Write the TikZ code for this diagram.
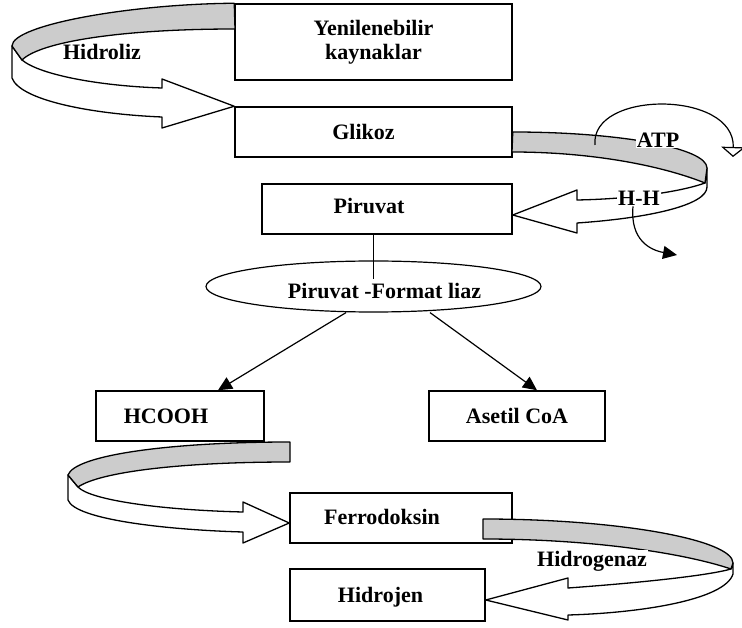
\documentclass[tikz,border=0pt]{standalone}
\usepackage{fontspec}
\setmainfont{Liberation Serif}
\usetikzlibrary{shapes.geometric,arrows.meta}

\begin{document}
\begin{tikzpicture}[x=1pt, y=-1pt,
  every node/.style = {font=\bfseries\fontsize{22}{24}\selectfont},
  box/.style = {draw, rectangle, line width=1.5pt, inner sep=0pt,
    minimum height=50pt},
  enzyme/.style = {draw, ellipse, line width=1.2pt, inner sep=0pt,
    minimum width=335pt, minimum height=51pt},
  band/.style = {draw, line width=1.3pt, line join=round, fill=white},
  shade/.style = {band, fill=black!20},
  tag/.style = {fill=white, inner sep=1pt},
  link/.style = {line width=1.2pt},
  head/.style = {-{Triangle[width=13pt, length=14pt]}}]
  \useasboundingbox (0,0) rectangle (742,628);

  \node[box, minimum width=277, minimum height=76, align=center] (yk) at (373.5,42) {Yenilenebilir\\kaynaklar};
  \node[box, minimum width=277, label={[xshift=-10]center:Glikoz}] (glikoz) at (373.5,132) {};
  \node[box, minimum width=250, label={[xshift=-18, yshift=3]center:Piruvat}] (piruvat) at (387,209) {};
  \node[enzyme, label={[xshift=11, yshift=-5]center:Piruvat -Format liaz}] (enz) at (373.5,286.5) {};
  \node[box, minimum width=168, label={[xshift=-14]center:HCOOH}] (hcooh) at (180,416) {};
  \node[box, minimum width=176] (asetil) at (517,416) {Asetil CoA};
  \node[box, minimum width=222, label={[xshift=-19, yshift=1]center:Ferrodoksin}] (ferro) at (401,518) {};
  \node[box, minimum width=195, minimum height=52, label={[xshift=-7, yshift=-2]center:Hidrojen}] (hidrojen) at (387.5,595) {};

  \draw[link] (piruvat.south -| enz.center) -- ([yshift=7]enz.center);
  \draw[link, head] ([xshift=-27.5]enz.south) -- ([xshift=38]hcooh.north);
  \draw[link, head] ([xshift=56.5]enz.south) -- ([xshift=20]asetil.north);

  \filldraw[band] (12,46) -- (12,78) .. controls (20,100) and (90,114) .. (162,117)
    -- (162,128) -- (glikoz.north west) -- (162,79) -- (162,88)
    .. controls (100,86) and (40,75) .. (22,60) -- cycle;
  \filldraw[shade] (yk.north west) .. controls (130,4) and (12,25) .. (12,46)
    -- (22,60) .. controls (40,42) and (120,29) .. (235,29) -- cycle;

  \filldraw[band] (707,168) -- (707,187) .. controls (707,205) and (650,218) .. (577,223)
    -- (577,233) -- ([yshift=-6]piruvat.east) -- (577,190) -- (577,200)
    .. controls (630,199) and (680,192) .. (705,183) -- cycle;
  \filldraw[shade] (glikoz.east) .. controls (620,132) and (707,148) .. (707,168)
    -- (705,183) .. controls (660,165) and (590,152) .. (512,152) -- cycle;

  \filldraw[band] (68,475) -- (68,500) .. controls (75,520) and (170,530) .. (243,532)
    -- (243,543) -- ([yshift=-5]ferro.west) -- (243,502) -- (243,512)
    .. controls (160,510) and (90,500) .. (78,487) -- cycle;
  \filldraw[shade] (290,442) -- (290,462) .. controls (180,462) and (100,472) .. (78,487)
    -- (68,475) .. controls (75,455) and (170,442) .. (290,442) -- cycle;

  \filldraw[band] (733,563) -- (733,574) .. controls (725,600) and (640,613) .. (568,615)
    -- (568,620) -- ([yshift=-5]hidrojen.east) -- (568,578) -- (568,588)
    .. controls (650,582) and (710,575) .. (731,569) -- cycle;
  \filldraw[shade] (483,519) .. controls (620,519) and (733,540) .. (733,563)
    -- (731,569) .. controls (690,555) and (600,539) .. (483,539) -- cycle;

  \node (hidroliz) at (102,52) {Hidroliz};
  \node[tag] (atp) at (658,140) {ATP};
  \node[tag] (hh) at (639,198) {H-H};
  \node[tag] (hgenaz) at (592,561) {Hidrogenaz};

  \draw[link, -{Triangle[open, width=24pt, length=10pt]}] (595,145)
    .. controls (590,90) and (735,90) .. (733,157);
  \draw[link, head] ([xshift=-6]hh.south) .. controls (630,240) and (650,250) .. (677,255);
\end{tikzpicture}
\end{document}
